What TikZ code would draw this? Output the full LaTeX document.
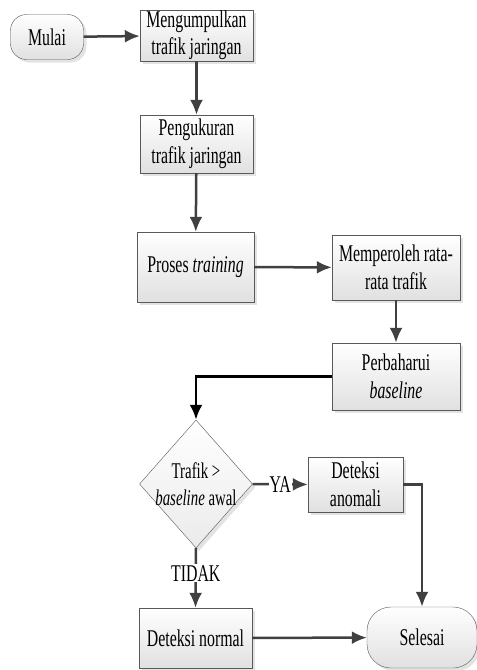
\documentclass[tikz,border=0pt]{standalone}
\usepackage{fontspec}
\setmainfont{Liberation Serif}[FakeStretch=0.66]
\usetikzlibrary{shapes.geometric,shadows,arrows.meta}

\begin{document}
\begin{tikzpicture}
    [x=1pt, y=-1pt,
     box/.style={draw=black!65, top color=white, bottom color=black!12,
       drop shadow={shadow xshift=3pt, shadow yshift=-3pt, fill=black!22},
       align=center, inner sep=0pt, font=\fontsize{24}{27.5}\selectfont},
     term/.style={box, rounded corners=16pt},
     decision/.style={box, diamond, top color=white, bottom color=black!8},
     flow/.style={draw=black!75, line width=2.5pt, -{Latex[length=15pt,width=13pt]}},
     tag/.style={fill=white, inner sep=1pt, font=\fontsize{24}{27}\selectfont}]
    \useasboundingbox (0,0) rectangle (477,670);

    \node[term, minimum width=73pt, minimum height=45pt] (mulai) at (47,37) {Mulai};
    \node[box, minimum width=113pt, minimum height=51pt] (kumpul) at (196.5,35.5) {Mengumpulkan\\trafik jaringan};
    \node[box, minimum width=113pt, minimum height=58pt] (ukur) at (196.5,144) {Pengukuran\\trafik jaringan};
    \node[box, minimum width=117pt, minimum height=70pt] (training) at (195.5,267) {Proses \textit{training}};
    \node[box, minimum width=128pt, minimum height=65pt] (rata) at (396,267.5) {Memperoleh rata-\\rata trafik};
    \node[box, minimum width=128pt, minimum height=67pt] (perbarui) at (396,376.5) {Perbaharui\\\textit{baseline}};
    \node[decision, minimum width=113pt, minimum height=128pt,
      label={[align=center, font=\fontsize{22.5}{27}\selectfont]center:Trafik >\\\textit{baseline} awal}] (cek) at (196,484) {};
    \node[box, minimum width=95pt, minimum height=55pt] (anomali) at (355.5,484.5) {Deteksi\\anomali};
    \node[box, minimum width=113pt, minimum height=60pt] (normal) at (195.5,638) {Deteksi normal};
    \node[term, rounded corners=24pt, minimum width=110pt, minimum height=61pt] (selesai) at (422,637.5) {Selesai};

    \draw[flow] (mulai) -- (kumpul);
    \draw[flow] (kumpul) -- (ukur);
    \draw[flow] (ukur) -- (training);
    \draw[flow] (training) -- (rata);
    \draw[flow] (rata) -- (perbarui);
    \draw[flow, draw=black, line width=2.8pt] (perbarui.west) -| (cek.north);
    \draw[flow] (cek.east) -- node[tag]{YA} (anomali.west);
    \draw[flow] (anomali.east) -| (selesai.north);
    \draw[flow] (cek.south) -- node[tag, pos=0.42]{TIDAK} (normal.north);
    \draw[flow] (normal) -- (selesai);
  \end{tikzpicture}
\end{document}
